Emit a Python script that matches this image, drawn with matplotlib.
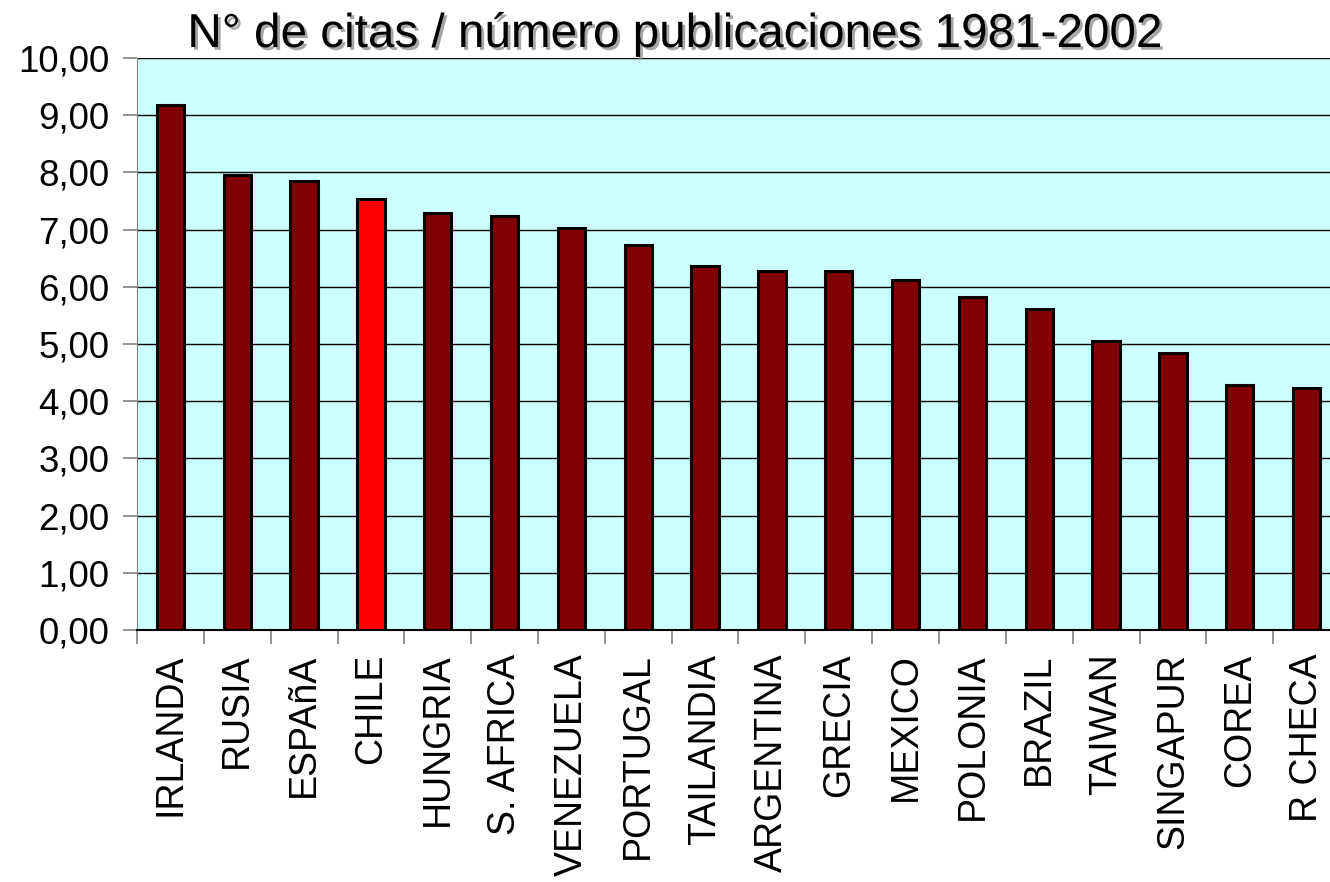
import matplotlib
matplotlib.use('Agg')
import matplotlib.pyplot as plt
import matplotlib.patheffects as pe
import numpy as np

paises = ['IRLANDA', 'RUSIA', 'ESPAñA', 'CHILE', 'HUNGRIA', 'S. AFRICA', 'VENEZUELA',
          'PORTUGAL', 'TAILANDIA', 'ARGENTINA', 'GRECIA', 'MEXICO', 'POLONIA', 'BRAZIL',
          'TAIWAN', 'SINGAPUR', 'COREA', 'R CHECA']
citas = [9.18, 7.95, 7.85, 7.53, 7.29, 7.24, 7.03, 6.73, 6.36, 6.28, 6.28, 6.12,
         5.82, 5.61, 5.05, 4.84, 4.28, 4.23]
destacado = 'CHILE'
yticks = np.arange(0, 11, 1)

plt.rcParams['font.family'] = ['Liberation Sans', 'DejaVu Sans']

fig = plt.figure(figsize=(13.3, 8.82), dpi=100)
ax = fig.add_axes([137/1330, 252/882, 1203/1330, 572/882])
ax.set_facecolor('#CCFFFF')

x = np.arange(len(paises))
colores = ['#FF0000' if p == destacado else '#800000' for p in paises]
ax.bar(x, citas, width=0.41, color=colores, edgecolor='black', linewidth=2.2, zorder=3)

ax.set_xlim(-0.5, len(paises) - 0.5)
ax.set_ylim(0, 10)
ax.set_yticks(yticks)
ax.set_yticklabels([f'{v:.2f}'.replace('.', ',') for v in yticks], fontsize=26.5)
ax.yaxis.grid(True, color='black', linewidth=1.0, zorder=1)
ax.set_axisbelow(True)

ax.set_xticks(x)
ax.set_xticklabels(paises, rotation=90, fontsize=27, va='top', ha='center')
ax.tick_params(axis='x', which='major', length=0, pad=17)
ax.set_xticks(np.arange(-0.5, len(paises), 1), minor=True)
ax.tick_params(axis='x', which='minor', length=10, width=1.2, color='#808080')
ax.tick_params(axis='y', length=10, width=1.2, color='#808080', pad=10)

for s in ['top', 'right']:
    ax.spines[s].set_visible(False)
ax.spines['left'].set_color('#808080')
ax.spines['bottom'].set_color('black')
ax.spines['bottom'].set_linewidth(1.5)

fig.text(0.5075, 0.9467, 'N° de citas / número publicaciones 1981-2002', fontsize=34.3,
         ha='center', va='baseline',
         path_effects=[pe.SimplePatchShadow(offset=(2, -2), shadow_rgbFace='#909090', alpha=0.8),
                       pe.Normal()])

fig.savefig('out.png', dpi=100)
